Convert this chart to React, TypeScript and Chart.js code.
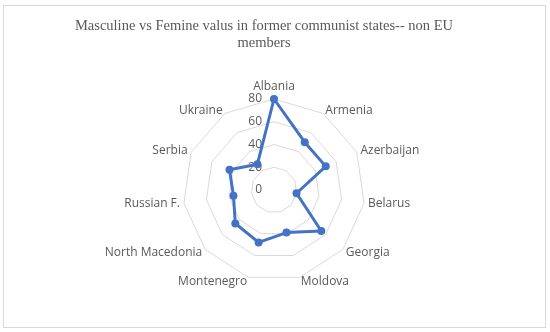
import React, { useEffect, useRef } from "react";
import { Chart, registerables } from "chart.js";

Chart.register(...registerables);

const titleLines = [
  "Masculine vs Femine valus in former communist states-- non EU",
  "members",
];
const countries = [
  "Albania",
  "Armenia",
  "Azerbaijan",
  "Belarus",
  "Georgia",
  "Moldova",
  "Montenegro",
  "North Macedonia",
  "Russian F.",
  "Serbia",
  "Ukraine",
];
const masculinity = [80, 50, 50, 20, 55, 39, 48, 45, 36, 43, 27];
const scaleMin = 0;
const scaleMax = 80;
const scaleStep = 20;

const labelColor = "#595959";
const gridColor = "#d9d9d9";
const lineColor = "#4472C4";
const sansFamily = "'Open Sans', 'Noto Sans', sans-serif";

const leftTickLabels = {
  id: "leftTickLabels",
  beforeDatasetsDraw(chart: any) {
    const scale = chart.scales.r;
    const ctx = chart.ctx;
    ctx.save();
    ctx.font = `12px ${sansFamily}`;
    ctx.fillStyle = labelColor;
    ctx.textAlign = "right";
    ctx.textBaseline = "middle";
    scale.ticks.forEach((t: any) => {
      const p = scale.getPointPositionForValue(0, t.value);
      ctx.fillText(t.label ?? String(t.value), p.x - 12, p.y);
    });
    ctx.restore();
  },
};

export default function App() {
  const ref = useRef<HTMLCanvasElement>(null);

  useEffect(() => {
    if (!ref.current) return;
    const chart = new Chart(ref.current, {
      type: "radar",
      data: {
        labels: countries,
        datasets: [
          {
            label: "Masculinity",
            data: masculinity,
            borderColor: lineColor,
            backgroundColor: lineColor,
            borderWidth: 3,
            borderJoinStyle: "round",
            fill: false,
            pointRadius: 4,
            pointBorderWidth: 0,
            pointBackgroundColor: lineColor,
            pointBorderColor: lineColor,
          },
        ],
      },
      options: {
        animation: false,
        responsive: false,
        devicePixelRatio: 1,
        layout: { padding: { top: 18, left: 60, right: 82, bottom: 44 } },
        plugins: {
          legend: {
            display: true,
            position: "left",
            labels: { filter: () => false, padding: 10 },
          },
          tooltip: { enabled: false },
          title: {
            display: true,
            text: titleLines,
            color: labelColor,
            font: {
              family: "'Liberation Serif', 'Times New Roman', serif",
              size: 14.5,
              weight: "normal",
              lineHeight: "16.6px",
            },
            padding: { top: 0, bottom: 29.8 },
          },
        },
        scales: {
          r: {
            min: scaleMin,
            max: scaleMax,
            ticks: { stepSize: scaleStep, display: false },
            grid: { color: gridColor, lineWidth: 1, circular: false },
            angleLines: { display: false },
            pointLabels: {
              display: true,
              color: labelColor,
              font: { family: sansFamily, size: 12, lineHeight: 0 },
              padding: (ctx: any) => (ctx.index === 0 ? 12 : 4),
            },
          },
        },
      },
      plugins: [leftTickLabels],
    });
    return () => chart.destroy();
  }, []);

  return (
    <div style={{ position: "absolute", left: 0, top: 0, width: 550, height: 332, background: "#fff" }}>
      <div
        style={{
          position: "absolute",
          left: 3,
          top: 5,
          width: 541,
          height: 321,
          border: "1px solid #d9d9d9",
        }}
      />
      <canvas
        ref={ref}
        width={550}
        height={332}
        style={{ position: "absolute", left: 0, top: 0, width: 550, height: 332 }}
      />
    </div>
  );
}
